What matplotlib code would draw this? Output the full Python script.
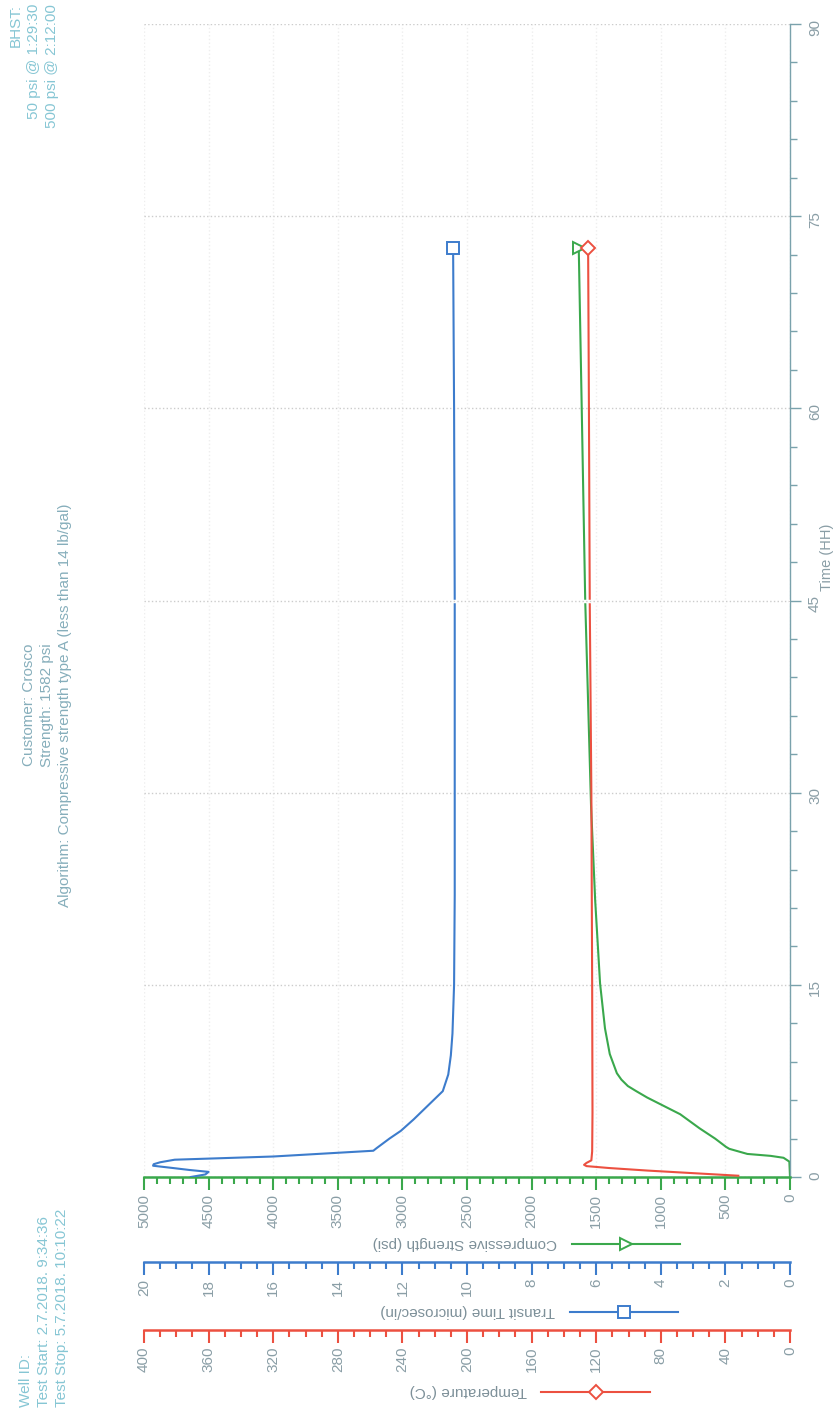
import matplotlib
matplotlib.use('Agg')
import matplotlib.pyplot as plt
from matplotlib.lines import Line2D
from matplotlib.ticker import MultipleLocator

plt.rcParams['font.family'] = ['Liberation Sans', 'DejaVu Sans']

# --- data (time in hours) ---
time_tt = [0.0, 0.2, 0.4, 0.55, 0.7, 0.88, 1.0, 1.15, 1.35, 1.6, 2.05, 2.25, 3.0, 3.6,
           4.5, 5.6, 6.7, 8.0, 9.5, 11.2, 15.0, 22.0, 30.0, 45.0, 60.0, 72.5]
transit = [18.55, 18.1, 18.0, 18.6, 19.1, 19.72, 19.70, 19.5, 19.05, 16.0, 12.9, 12.8, 12.4, 12.05,
           11.65, 11.2, 10.75, 10.58, 10.5, 10.45, 10.40, 10.38, 10.38, 10.38, 10.40, 10.43]

time_cs = [0.0, 1.2, 1.5, 1.65, 1.8, 2.2, 2.35, 3.0, 3.8, 4.9, 6.2, 6.7, 7.1, 7.6, 8.1, 9.6,
           11.6, 15.1, 21.6, 29.0, 45.0, 60.0, 72.5]
strength = [0, 5, 50, 150, 330, 470, 495, 580, 700, 850, 1105, 1190, 1255, 1305, 1340, 1395,
            1432, 1470, 1508, 1540, 1585, 1612, 1635]

time_temp = [0.1, 0.3, 0.5, 0.7, 0.85, 0.95, 1.1, 1.3, 2.0, 5.0, 15.0, 30.0, 45.0, 60.0, 72.5]
temperature = [32, 60, 88, 112, 126, 127.5, 126, 123, 122.5, 122.3, 122.5, 123, 124, 124.5, 125]

header_left = ['Well ID:', 'Test Start: 2.7.2018. 9:34:36', 'Test Stop: 5.7.2018. 10:10:22']
header_mid = ['Customer: Crosco', 'Strength: 1582 psi',
              'Algorithm: Compressive strength type A (less than 14 lb/gal)']
header_right = ['BHST:', '50 psi @ 1:29:30', '500 psi @ 2:12:00']

green = '#3aa84c'
blue = '#3d7ccc'
red = '#ec5040'
tick_txt = '#8a9ea6'
label_txt = '#7d9099'
hdr_txt = '#86c6d4'
time_col = '#7aa2ac'

W, H = 838, 1410


def fx(x):
    return x / W


def fy(y):
    return 1 - y / H


fig = plt.figure(figsize=(W / 100, H / 100), dpi=100)

L, R, T, B = 144, 790, 24, 1177
ax = fig.add_axes([fx(L), fy(B), (R - L) / W, (B - T) / H])
ax.set_xlim(5000, 0)
ax.set_ylim(0, 90)
ax.spines['top'].set_visible(False)
ax.spines['left'].set_visible(False)
ax.spines['bottom'].set_color(green)
ax.spines['bottom'].set_linewidth(1.8)
ax.spines['right'].set_color(time_col)
ax.spines['right'].set_linewidth(1)

ax.xaxis.set_major_locator(MultipleLocator(500))
ax.xaxis.set_minor_locator(MultipleLocator(100))
ax.tick_params(axis='x', which='major', length=9, width=1.5, color=green,
               labelrotation=90, pad=3, labelcolor=tick_txt, labelsize=11)
ax.tick_params(axis='x', which='minor', length=5, width=1.5, color=green)

ax.yaxis.tick_right()
ax.yaxis.set_major_locator(MultipleLocator(15))
ax.yaxis.set_minor_locator(MultipleLocator(3))
ax.tick_params(axis='y', which='major', length=8, width=1, color=time_col,
               labelrotation=90, pad=5, labelcolor=tick_txt, labelsize=11)
ax.tick_params(axis='y', which='minor', length=5, width=1, color=time_col)

ax.grid(axis='y', which='major', color='#cccccc', ls=':', lw=1)
ax.grid(axis='x', which='major', color='#eeeeee', ls=':', lw=1)

ax.plot(strength, time_cs, color=green, lw=1.5, marker='>', ms=9, mfc='white',
        mew=1.4, markevery=[len(strength) - 1])

ax_tt = ax.twiny()
ax_tt.set_xlim(20, 0)
ax_tt.axis('off')
ax_tt.plot(transit, time_tt, color=blue, lw=1.5, marker='s', ms=8, mfc='white',
           mew=1.4, markevery=[len(transit) - 1])

ax_temp = ax.twiny()
ax_temp.set_xlim(400, 0)
ax_temp.axis('off')
ax_temp.plot(temperature, time_temp, color=red, lw=1.5, marker='D', ms=7, mfc='white',
             mew=1.4, markevery=[len(temperature) - 1])
# scan gap across the curves at 45 h
ax_temp.axhline(45, color='white', lw=2.5, zorder=5)
ax_temp.axhline(45, color='#cccccc', ls=':', lw=1, zorder=6)


def scale_axis(y, hi, major, minor, color):
    a = fig.add_axes([fx(L), fy(y), (R - L) / W, 0.0001])
    a.set_xlim(hi, 0)
    a.set_yticks([])
    a.patch.set_visible(False)
    for s in ['top', 'left', 'right']:
        a.spines[s].set_visible(False)
    a.spines['bottom'].set_color(color)
    a.spines['bottom'].set_linewidth(1.8)
    a.xaxis.set_major_locator(MultipleLocator(major))
    a.xaxis.set_minor_locator(MultipleLocator(minor))
    a.tick_params(axis='x', which='major', length=9, width=1.5, color=color,
                  labelrotation=90, pad=3, labelcolor=tick_txt, labelsize=11)
    a.tick_params(axis='x', which='minor', length=5, width=1.5, color=color)
    return a


scale_axis(1262, 20, 2, 0.5, blue)
scale_axis(1330, 400, 40, 10, red)

# axis titles (upside down) with legend samples
labels = [('Compressive Strength (psi)', 557, 1243, 572, 680, green, '>', 9),
          ('Transit Time (microsec/in)', 555, 1311, 570, 678, blue, 's', 8),
          ('Temperature (°C)', 527, 1391, 541, 650, red, 'D', 7)]
for txt, xr, yc, x0, x1, col, mk, ms in labels:
    fig.text(fx(xr), fy(yc), txt, rotation=180, ha='right', va='center',
             color=label_txt, fontsize=11)
    xm = (x0 + x1) / 2
    fig.add_artist(Line2D([fx(x0), fx(xm), fx(x1)], [fy(yc + 1)] * 3,
                          transform=fig.transFigure, color=col, lw=1.5, marker=mk,
                          ms=ms, mfc='white', mew=1.4, markevery=[1]))

fig.text(fx(827), fy(557), 'Time (HH)', rotation=90, ha='center', va='center',
         color=tick_txt, fontsize=10.5)

for i, txt in enumerate(header_left):
    fig.text(fx(26 + 18 * i), fy(1407), txt, rotation=90, ha='center', va='bottom',
             color=hdr_txt, fontsize=11)
for i, txt in enumerate(header_mid):
    fig.text(fx(29 + 18 * i), fy(705), txt, rotation=90, ha='center', va='center',
             color='#86aebb', fontsize=11)
for i, txt in enumerate(header_right):
    fig.text(fx(16 + 18 * i), fy(4), txt, rotation=90, ha='center', va='top',
             color=hdr_txt, fontsize=11)

fig.savefig('out.png', dpi=100)
